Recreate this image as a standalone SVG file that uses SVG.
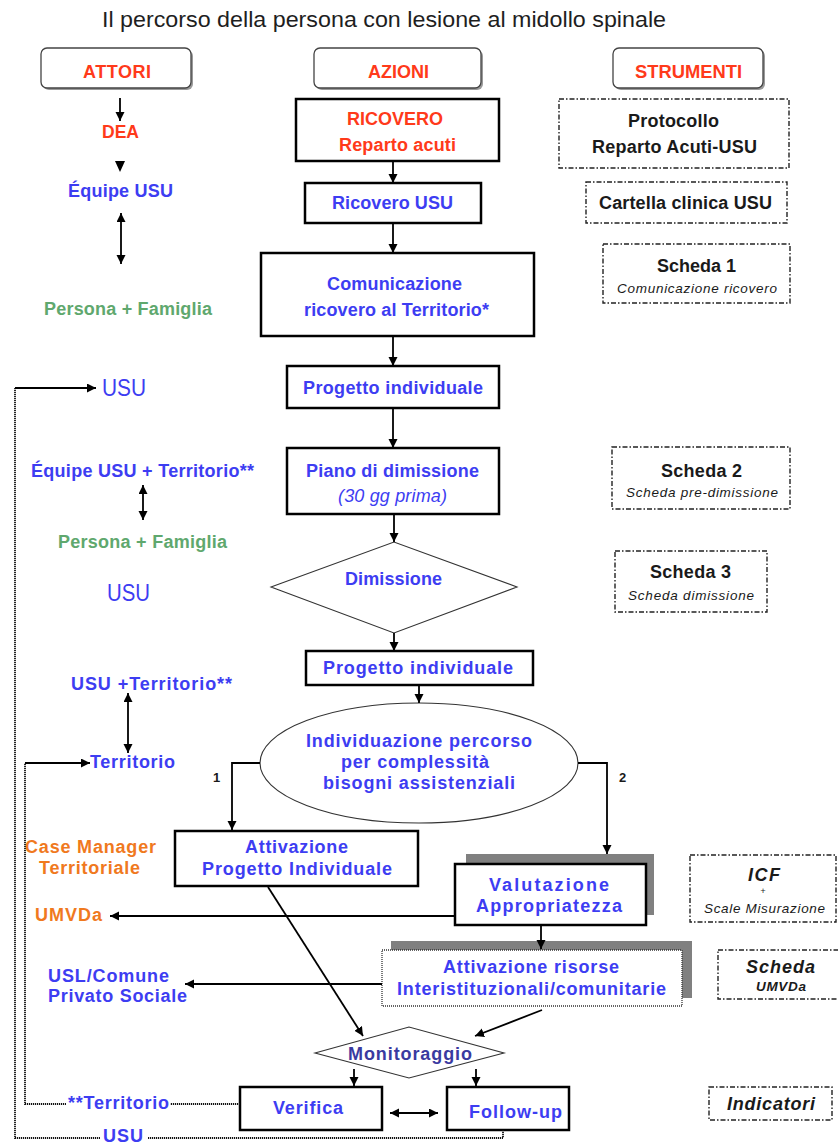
<svg xmlns="http://www.w3.org/2000/svg" width="838" height="1148" viewBox="0 0 838 1148">
  <style>
    text { font-family: "Liberation Sans", Arial, sans-serif; }
    .t { font-size: 22px; fill: #1e1e1e; }
    .hd { font-size: 18px; font-weight: bold; fill: #ff3a1a; }
    .b { font-size: 18px; font-weight: bold; fill: #3d3df2; }
    .r { font-size: 18px; font-weight: bold; fill: #ff3a1a; }
    .g { font-size: 18px; font-weight: bold; fill: #5fa86e; }
    .o { font-size: 18px; font-weight: bold; fill: #f0791e; }
    .u { font-size: 24px; fill: #3d3df2; }
    .bi { font-size: 18px; font-style: italic; fill: #3d3df2; }
    .m { font-size: 18px; font-weight: bold; fill: #3a3aa0; }
    .k { font-size: 18px; font-weight: bold; fill: #1a1a1a; }
    .ki { font-size: 13.5px; font-style: italic; fill: #1a1a1a; }
    .kbi { font-size: 18px; font-weight: bold; font-style: italic; fill: #1a1a1a; }
    .n { font-size: 13px; font-weight: bold; fill: #1a1a1a; }
    .hbox { fill: #fff; stroke: #444; stroke-width: 1.3; }
    .hshadow { fill: #9a9a9a; }
    .box { fill: #fff; stroke: #000; stroke-width: 2.5; }
    .thin { fill: #fff; stroke: #333; stroke-width: 1.1; }
    .tool { fill: #fff; stroke: #222; stroke-width: 1.4; stroke-dasharray: 5 2 1.5 2; }
    .shadow { fill: #808080; }
    .risorse { fill: #fff; stroke: #333; stroke-width: 1.3; stroke-dasharray: 1 1; }
    .arr { fill: none; stroke: #000; stroke-width: 1.8; marker-end: url(#ah); }
    .dbl { fill: none; stroke: #000; stroke-width: 1.8; marker-end: url(#ah); marker-start: url(#ahs); }
    .dot { fill: none; stroke: #111; stroke-width: 1.8; stroke-dasharray: 1.2 0.8; }
  </style>
  <defs>
    <marker id="ah" markerUnits="userSpaceOnUse" markerWidth="10" markerHeight="10" refX="9" refY="4.5" orient="auto">
      <path d="M0,0 L9,4.5 L0,9 z" fill="#000"/>
    </marker>
    <marker id="ahs" markerUnits="userSpaceOnUse" markerWidth="10" markerHeight="10" refX="9" refY="4.5" orient="auto-start-reverse">
      <path d="M0,0 L9,4.5 L0,9 z" fill="#000"/>
    </marker>
  </defs>

  <!-- title -->
  <text class="t" x="102" y="27" textLength="564" lengthAdjust="spacingAndGlyphs">Il percorso della persona con lesione al midollo spinale</text>

  <!-- column headers -->
  <g id="head-attori">
    <rect class="hshadow" x="43" y="50" width="150" height="40" rx="6"/>
    <rect class="hbox" x="41" y="48" width="150" height="40" rx="6"/>
    <text class="hd" x="83" y="78" textLength="68">ATTORI</text>
  </g>
  <g id="head-azioni">
    <rect class="hshadow" x="316" y="50" width="167" height="40" rx="6"/>
    <rect class="hbox" x="314" y="48" width="167" height="40" rx="6"/>
    <text class="hd" x="368" y="78" textLength="61">AZIONI</text>
  </g>
  <g id="head-strumenti">
    <rect class="hshadow" x="615" y="50" width="150" height="40" rx="6"/>
    <rect class="hbox" x="613" y="48" width="150" height="40" rx="6"/>
    <text class="hd" x="635" y="78" textLength="107" lengthAdjust="spacingAndGlyphs">STRUMENTI</text>
  </g>

  <!-- actors -->
  <g id="actor-dea"><text class="r" x="102" y="138" textLength="37" lengthAdjust="spacingAndGlyphs">DEA</text></g>
  <g id="actor-equipe-usu"><text class="b" x="68" y="197" textLength="105">Équipe USU</text></g>
  <g id="actor-persona-1"><text class="g" x="44" y="315" textLength="168">Persona + Famiglia</text></g>
  <g id="actor-usu-1"><text class="u" x="102" y="396" textLength="44" lengthAdjust="spacingAndGlyphs">USU</text></g>
  <g id="actor-equipe-territorio"><text class="b" x="31" y="477" textLength="223">Équipe USU + Territorio**</text></g>
  <g id="actor-persona-2"><text class="g" x="58" y="548" textLength="169">Persona + Famiglia</text></g>
  <g id="actor-usu-2"><text class="u" x="107" y="601" textLength="43" lengthAdjust="spacingAndGlyphs">USU</text></g>
  <g id="actor-usu-territorio"><text class="b" x="71" y="690" textLength="161">USU +Territorio**</text></g>
  <g id="actor-territorio"><text class="b" x="90" y="768" textLength="85">Territorio</text></g>
  <g id="actor-case-manager">
    <text class="o" x="25" y="853" textLength="131">Case Manager</text>
    <text class="o" x="39" y="874" textLength="101">Territoriale</text>
  </g>
  <g id="actor-umvda"><text class="o" x="35" y="921" textLength="67">UMVDa</text></g>
  <g id="actor-usl">
    <text class="b" x="48" y="982" textLength="121">USL/Comune</text>
    <text class="b" x="48" y="1002" textLength="139">Privato Sociale</text>
  </g>
  <g id="actor-territorio-2"><text class="b" x="68" y="1109" textLength="101">**Territorio</text></g>
  <g id="actor-usu-3"><text class="b" x="103" y="1142" textLength="40">USU</text></g>

  <!-- actions -->
  <g id="ricovero">
    <rect class="box" x="296" y="99" width="203" height="62"/>
    <text class="r" x="347" y="125" textLength="96">RICOVERO</text>
    <text class="r" x="339" y="151" textLength="117">Reparto acuti</text>
  </g>
  <g id="ricovero-usu">
    <rect class="box" x="305" y="183" width="176" height="40"/>
    <text class="b" x="332" y="209" textLength="121">Ricovero USU</text>
  </g>
  <g id="comunicazione">
    <rect class="box" x="261" y="253" width="273" height="83"/>
    <text class="b" x="327" y="290" textLength="135">Comunicazione</text>
    <text class="b" x="304" y="316" textLength="185">ricovero al Territorio*</text>
  </g>
  <g id="progetto-1">
    <rect class="box" x="287" y="366" width="212" height="42"/>
    <text class="b" x="303" y="394" textLength="180">Progetto individuale</text>
  </g>
  <g id="piano-dimissione">
    <rect class="box" x="287" y="448" width="212" height="66"/>
    <text class="b" x="306" y="477" textLength="173">Piano di dimissione</text>
    <text class="bi" x="338" y="502" textLength="109">(30 gg prima)</text>
  </g>
  <g id="dimissione">
    <polygon class="thin" points="271,587 394,542 517,587 394,633"/>
    <text class="b" x="345" y="585" textLength="97">Dimissione</text>
  </g>
  <g id="progetto-2">
    <rect class="box" x="306" y="651" width="227" height="34"/>
    <text class="b" x="323" y="674" textLength="190">Progetto individuale</text>
  </g>
  <g id="individuazione">
    <ellipse class="thin" cx="419" cy="763" rx="159" ry="60"/>
    <text class="b" x="306" y="747" textLength="226">Individuazione percorso</text>
    <text class="b" x="341" y="768" textLength="148">per complessità</text>
    <text class="b" x="323" y="789" textLength="192">bisogni assistenziali</text>
  </g>
  <g id="label-1"><text class="n" x="213" y="782">1</text></g>
  <g id="label-2"><text class="n" x="619" y="782">2</text></g>
  <g id="attivazione-progetto">
    <rect class="box" x="175" y="831" width="243" height="55"/>
    <text class="b" x="245" y="853" textLength="103">Attivazione</text>
    <text class="b" x="202" y="875" textLength="190">Progetto Individuale</text>
  </g>
  <g id="valutazione">
    <rect class="shadow" x="466" y="854" width="188" height="61"/>
    <rect class="box" x="455" y="864" width="191" height="61"/>
    <text class="b" x="489" y="891" textLength="120">Valutazione</text>
    <text class="b" x="476" y="912" textLength="146">Appropriatezza</text>
  </g>
  <g id="attivazione-risorse">
    <rect class="shadow" x="391" y="941" width="301" height="57"/>
    <rect class="risorse" x="382" y="950" width="300" height="56"/>
    <text class="b" x="443" y="973" textLength="176">Attivazione risorse</text>
    <text class="b" x="397" y="995" textLength="269">Interistituzionali/comunitarie</text>
  </g>
  <g id="monitoraggio">
    <polygon class="thin" points="315,1053 409,1027 504,1053 409,1078"/>
    <text class="m" x="348" y="1060" textLength="124">Monitoraggio</text>
  </g>
  <g id="verifica">
    <rect class="box" x="240" y="1087" width="142" height="43"/>
    <text class="b" x="273" y="1114" textLength="70">Verifica</text>
  </g>
  <g id="follow-up">
    <rect class="box" x="447" y="1087" width="122" height="43"/>
    <text class="b" x="469" y="1118" textLength="93">Follow-up</text>
  </g>

  <!-- tools -->
  <g id="tool-protocollo">
    <rect class="tool" x="559" y="99" width="230" height="69"/>
    <text class="k" x="628" y="127" textLength="91">Protocollo</text>
    <text class="k" x="592" y="153" textLength="165">Reparto Acuti-USU</text>
  </g>
  <g id="tool-cartella">
    <rect class="tool" x="586" y="182" width="201" height="41"/>
    <text class="k" x="599" y="209" textLength="173">Cartella clinica USU</text>
  </g>
  <g id="tool-scheda-1">
    <rect class="tool" x="603" y="244" width="187" height="59"/>
    <text class="k" x="657" y="272" textLength="79">Scheda 1</text>
    <text class="ki" x="617" y="293" textLength="160">Comunicazione ricovero</text>
  </g>
  <g id="tool-scheda-2">
    <rect class="tool" x="612" y="447" width="178" height="62"/>
    <text class="k" x="661" y="477" textLength="81">Scheda 2</text>
    <text class="ki" x="626" y="497" textLength="152">Scheda pre-dimissione</text>
  </g>
  <g id="tool-scheda-3">
    <rect class="tool" x="615" y="551" width="152" height="61"/>
    <text class="k" x="650" y="578" textLength="81">Scheda 3</text>
    <text class="ki" x="628" y="600" textLength="126">Scheda dimissione</text>
  </g>
  <g id="tool-icf">
    <rect class="tool" x="690" y="855" width="146" height="67"/>
    <text class="kbi" x="748" y="881" textLength="32">ICF</text>
    <text class="ki" x="763" y="894" text-anchor="middle" style="font-size:9px">+</text>
    <text class="ki" x="704" y="913" textLength="121">Scale Misurazione</text>
  </g>
  <g id="tool-scheda-umvda">
    <rect class="tool" x="718" y="950" width="124" height="49"/>
    <text class="kbi" x="746" y="973" textLength="69">Scheda</text>
    <text class="ki" x="756" y="991" textLength="50" style="font-weight:bold">UMVDa</text>
  </g>
  <g id="tool-indicatori">
    <rect class="tool" x="709" y="1087" width="123" height="33"/>
    <text class="kbi" x="727" y="1110" textLength="88">Indicatori</text>
  </g>

  <!-- connectors -->
  <g id="connectors">
    <path class="arr" d="M120,98 V121"/>
    <path d="M115,161 L125,161 L120,172 z" fill="#000"/>
    <path class="dbl" d="M121,213 V264"/>
    <path class="dbl" d="M143,485 V520"/>
    <path class="dbl" d="M128,693 V753"/>

    <path class="arr" d="M393,161 V183"/>
    <path class="arr" d="M393,223 V253"/>
    <path class="arr" d="M393,336 V366"/>
    <path class="arr" d="M393,408 V448"/>
    <path class="arr" d="M394,514 V542"/>
    <path class="arr" d="M394,633 V651"/>
    <path class="arr" d="M419,685 V703"/>
    <path class="arr" d="M260,763 H232 V830"/>
    <path class="arr" d="M578,763 H607 V854"/>
    <path class="arr" d="M455,916 H110"/>
    <path class="arr" d="M541,925 V949"/>
    <path class="arr" d="M382,984 H185"/>
    <path class="arr" d="M268,887 L363,1036"/>
    <path class="arr" d="M542,1010 L475,1036"/>
    <path class="arr" d="M354,1069 V1086"/>
    <path class="arr" d="M476,1069 V1086"/>
    <path class="dbl" d="M390,1113 H438"/>

    <!-- feedback loops back to USU and Territorio -->
    <path class="dot" d="M503,1130 V1138 H148"/>
    <path class="dot" d="M100,1138 H15 V388"/>
    <path class="arr" d="M15,388 H96"/>
    <path class="dot" d="M240,1104 H170"/>
    <path class="dot" d="M66,1104 H25 V763"/>
    <path class="arr" d="M25,763 H90"/>
  </g>
</svg>
